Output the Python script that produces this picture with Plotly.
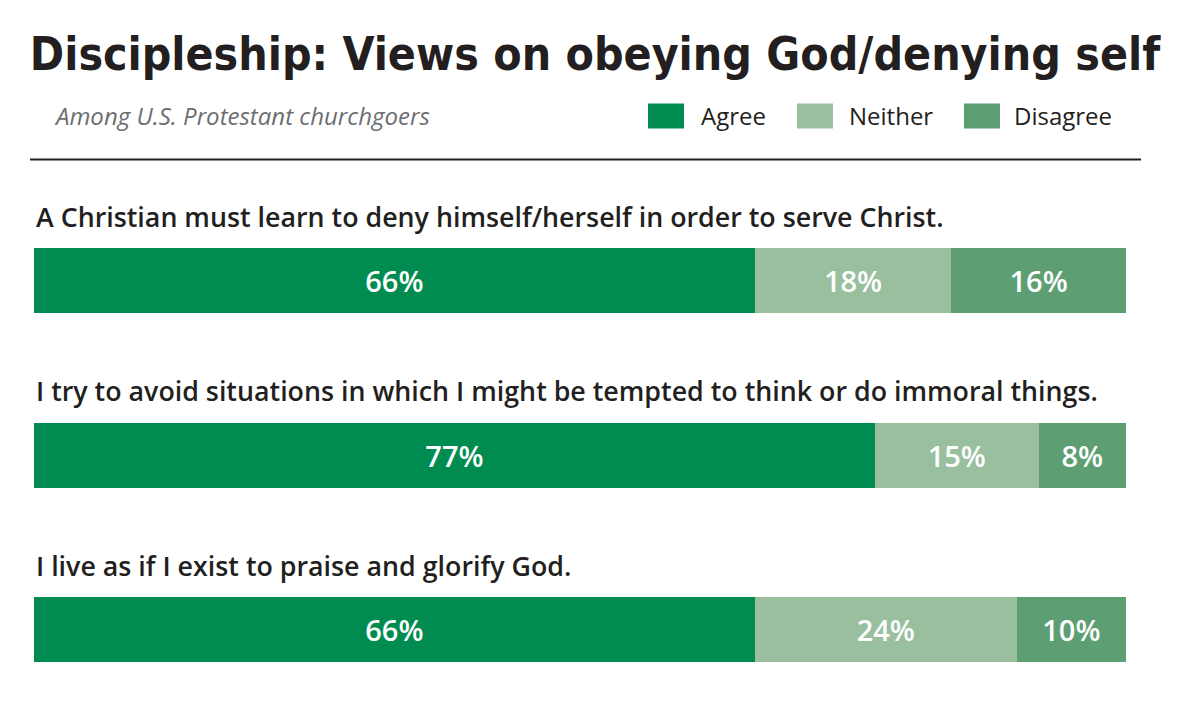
import plotly.graph_objects as go

# data
questions = [
    "A Christian must learn to deny himself/herself in order to serve Christ.",
    "I try to avoid situations in which I might be tempted to think or do immoral things.",
    "I live as if I exist to praise and glorify God.",
]
series = ["Agree", "Neither", "Disagree"]
agree = [66, 77, 66]
neither = [18, 15, 24]
disagree = [16, 8, 10]

colors = {"Agree": "#008c50", "Neither": "#99bf9f", "Disagree": "#5d9f73"}
values = {"Agree": agree, "Neither": neither, "Disagree": disagree}

# page body adds 8px, so work in screen pixels minus that offset
OFF = 8
W, H = 1200, 725
L, R = 34 - OFF, 74 + OFF
T, B = 123.5 - OFF, 17 + OFF
plot_h = H - T - B
plot_w = W - L - R


def px_x(px):
    return (px - OFF - L) / plot_w


def px_y(py):
    return 1 + (T - (py - OFF)) / plot_h


rows = list(range(len(questions)))

fig = go.Figure()
for name in series:
    fig.add_trace(go.Bar(
        y=rows,
        x=values[name],
        orientation="h",
        name=name,
        width=0.3725,
        marker=dict(color=colors[name], line=dict(width=0)),
        texttemplate="%{x}%",
        textposition="inside",
        insidetextanchor="middle",
        textfont=dict(family="Open Sans", size=29, color="white", weight=600),
        hoverinfo="skip",
    ))

# question labels above each bar
for i, q in enumerate(questions):
    fig.add_annotation(
        x=0.0, xref="paper", y=i - 0.37, yref="y",
        text=q, showarrow=False, xanchor="left", yanchor="middle",
        font=dict(family="Open Sans", size=26.8, color="#231f20", weight=600),
    )

# subtitle
fig.add_annotation(
    x=px_x(52), xref="paper", y=px_y(115), yref="paper",
    text="<i>Among U.S. Protestant churchgoers</i>", showarrow=False,
    xanchor="left", yanchor="middle",
    font=dict(family="Open Sans", size=24, color="#6d6e71"),
)

# legend drawn by hand for big swatches
swatch_x = [648, 797, 964]
label_x = [701, 849, 1014]
for name, sx, lx in zip(series, swatch_x, label_x):
    fig.add_shape(
        type="rect", xref="paper", yref="paper",
        x0=px_x(sx), x1=px_x(sx + 36), y0=px_y(128), y1=px_y(103),
        fillcolor=colors[name], line=dict(width=0),
    )
    fig.add_annotation(
        x=px_x(lx - 2), xref="paper", y=px_y(115), yref="paper",
        text=name, showarrow=False, xanchor="left", yanchor="middle",
        font=dict(family="Open Sans", size=24, color="#231f20"),
    )

# rule under header
fig.add_shape(
    type="line", xref="paper", yref="paper",
    x0=px_x(30), x1=px_x(1141), y0=px_y(159), y1=px_y(159),
    line=dict(color="#231f20", width=2),
)

fig.update_layout(
    width=W, height=H,
    barmode="stack",
    showlegend=False,
    plot_bgcolor="white",
    paper_bgcolor="white",
    margin=dict(l=L, r=R, t=T, b=B),
    title=dict(
        text="<b>Discipleship: Views on obeying God/denying self</b>",
        x=(595 - OFF) / W, xanchor="center", y=1 - (54 - OFF) / H, yanchor="middle",
        font=dict(family="DejaVu Sans Condensed, DejaVu Sans", size=46, color="#231f20"),
    ),
    xaxis=dict(range=[0, 100], visible=False, fixedrange=True),
    yaxis=dict(range=[2.45, -0.9], visible=False, fixedrange=True),
)

fig.write_html("out.html")
